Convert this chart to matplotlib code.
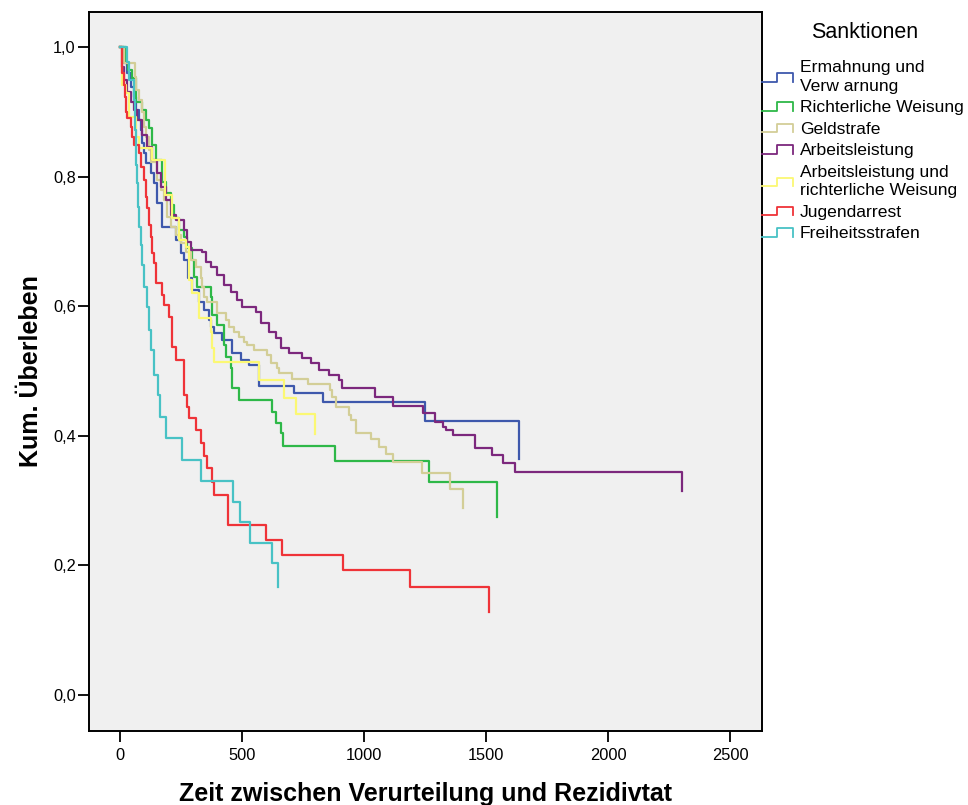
import matplotlib
matplotlib.use("Agg")
import matplotlib.pyplot as plt
from matplotlib.lines import Line2D
from matplotlib.legend_handler import HandlerBase
from matplotlib.ticker import FuncFormatter

# Kaplan-Meier Schaetzungen (Zeit in Tagen, kum. Ueberleben)
ermahnung_t = [16, 29, 45, 57, 66, 78, 86, 90, 99, 107, 127, 140, 152, 172, 230, 250, 263, 279,
               296, 324, 345, 365, 374, 386, 419, 460, 497, 530, 571, 714, 833, 1248, 1634]
ermahnung_s = [0.975, 0.960, 0.938, 0.923, 0.903, 0.887, 0.872, 0.852, 0.836, 0.821, 0.806, 0.790,
               0.759, 0.722, 0.702, 0.682, 0.671, 0.644, 0.625, 0.606, 0.594, 0.579, 0.568, 0.559,
               0.548, 0.528, 0.517, 0.509, 0.477, 0.466, 0.452, 0.423, 0.364]

weisung_t = [25, 33, 49, 66, 90, 107, 119, 131, 148, 172, 189, 209, 222, 242, 263, 275, 296, 304,
             316, 374, 378, 398, 427, 435, 456, 460, 489, 624, 640, 661, 669, 883, 1268, 1543]
weisung_s = [0.977, 0.965, 0.952, 0.915, 0.903, 0.887, 0.875, 0.849, 0.826, 0.792, 0.775, 0.756,
             0.736, 0.718, 0.707, 0.690, 0.671, 0.645, 0.630, 0.614, 0.586, 0.571, 0.540, 0.522,
             0.505, 0.474, 0.455, 0.437, 0.420, 0.404, 0.384, 0.361, 0.329, 0.275]

geld_t = [15, 62, 66, 78, 90, 99, 107, 119, 127, 152, 168, 181, 193, 209, 230, 250, 271, 291, 312,
          333, 337, 345, 357, 398, 435, 447, 468, 489, 509, 521, 550, 603, 620, 644, 653, 706, 772,
          862, 870, 887, 940, 948, 969, 1030, 1063, 1092, 1117, 1236, 1351, 1404]
geld_s = [0.975, 0.954, 0.934, 0.918, 0.900, 0.877, 0.861, 0.841, 0.823, 0.795, 0.779, 0.764,
          0.738, 0.722, 0.710, 0.698, 0.684, 0.671, 0.660, 0.644, 0.630, 0.614, 0.606, 0.590,
          0.579, 0.568, 0.560, 0.552, 0.545, 0.540, 0.532, 0.525, 0.512, 0.505, 0.497, 0.488,
          0.480, 0.471, 0.460, 0.444, 0.432, 0.424, 0.404, 0.395, 0.383, 0.372, 0.360, 0.343,
          0.318, 0.289]

arbeit_t = [8, 16, 29, 45, 57, 70, 90, 111, 131, 152, 168, 189, 209, 230, 263, 275, 291, 337, 353,
            374, 398, 427, 456, 480, 501, 558, 579, 612, 640, 661, 694, 747, 784, 817, 858, 899,
            911, 1043, 1117, 1240, 1289, 1322, 1338, 1363, 1453, 1523, 1568, 1617, 2303]
arbeit_s = [0.969, 0.949, 0.931, 0.915, 0.903, 0.887, 0.864, 0.846, 0.826, 0.806, 0.784, 0.764,
            0.741, 0.733, 0.718, 0.699, 0.687, 0.684, 0.668, 0.660, 0.648, 0.633, 0.622, 0.610,
            0.599, 0.591, 0.574, 0.560, 0.551, 0.535, 0.528, 0.520, 0.512, 0.502, 0.494, 0.486,
            0.474, 0.460, 0.446, 0.435, 0.421, 0.414, 0.409, 0.401, 0.381, 0.370, 0.358, 0.344,
            0.315]

arbeit_weis_t = [8, 25, 37, 66, 78, 131, 185, 214, 242, 271, 283, 296, 324, 374, 378, 386, 571,
                 673, 722, 800]
arbeit_weis_s = [0.941, 0.929, 0.892, 0.861, 0.844, 0.826, 0.772, 0.736, 0.702, 0.691, 0.640,
                 0.620, 0.582, 0.560, 0.535, 0.514, 0.486, 0.458, 0.434, 0.403]

arrest_t = [8, 16, 21, 25, 29, 45, 49, 57, 78, 86, 99, 107, 111, 119, 127, 131, 140, 148, 172, 181,
            201, 214, 230, 263, 275, 283, 312, 333, 345, 357, 378, 386, 443, 599, 665, 915, 1190,
            1511]
arrest_s = [0.960, 0.941, 0.923, 0.900, 0.890, 0.877, 0.861, 0.849, 0.836, 0.815, 0.795, 0.769,
            0.752, 0.725, 0.707, 0.682, 0.667, 0.636, 0.617, 0.602, 0.583, 0.537, 0.517, 0.463,
            0.444, 0.427, 0.409, 0.389, 0.369, 0.350, 0.329, 0.309, 0.262, 0.239, 0.216, 0.193,
            0.167, 0.128]

frei_t = [29, 37, 57, 62, 66, 70, 72, 78, 86, 90, 99, 111, 119, 127, 140, 156, 164, 189, 255, 333,
          464, 493, 534, 624, 649]
frei_s = [0.977, 0.949, 0.918, 0.872, 0.818, 0.790, 0.753, 0.722, 0.694, 0.664, 0.630, 0.599,
          0.563, 0.532, 0.494, 0.463, 0.429, 0.397, 0.363, 0.330, 0.298, 0.267, 0.235, 0.204,
          0.167]

labels = ["Ermahnung und\nVerw arnung", "Richterliche Weisung", "Geldstrafe", "Arbeitsleistung",
          "Arbeitsleistung und\nrichterliche Weisung", "Jugendarrest", "Freiheitsstrafen"]
colors = ["#3E58AC", "#2EB848", "#D3CE97", "#7C287D", "#FBF873", "#EF3338", "#48C2C5"]
series = [(ermahnung_t, ermahnung_s), (weisung_t, weisung_s), (geld_t, geld_s),
          (arbeit_t, arbeit_s), (arbeit_weis_t, arbeit_weis_s), (arrest_t, arrest_s),
          (frei_t, frei_s)]

plt.rcParams['font.family'] = ['Liberation Sans', 'DejaVu Sans']


class StepHandler(HandlerBase):
    """kleines Treppchen als Legendensymbol"""
    def create_artists(self, legend, orig_handle, xdescent, ydescent, width, height,
                       fontsize, trans):
        xs = [0, 0.5, 0.5, 1.0, 1.0]
        ys = [0.1, 0.1, 0.8, 0.8, 0.1]
        line = Line2D([-xdescent + x * width for x in xs],
                      [-ydescent + y * height for y in ys],
                      color=orig_handle.get_color(), lw=1.3)
        line.set_transform(trans)
        return [line]


fig = plt.figure(figsize=(9.68, 8.05), dpi=100)
ax = fig.add_axes([89 / 968, 74 / 805, 673 / 968, 719 / 805])
ax.set_facecolor("#F0F0F0")

handles = []
for (t, s), c, lab in zip(series, colors, labels):
    h, = ax.step([0] + t, [1.0] + s, where='post', color=c, lw=1.6, label=lab)
    handles.append(h)

ax.set_xlim(-127, 2631)
ax.set_ylim(-0.056, 1.054)
ax.set_xticks([0, 500, 1000, 1500, 2000, 2500])
ax.set_yticks([0.0, 0.2, 0.4, 0.6, 0.8, 1.0])
ax.yaxis.set_major_formatter(FuncFormatter(lambda v, p: ("%.1f" % v).replace(".", ",")))
ax.tick_params(direction='out', length=8, width=1.3, labelsize=11.8)
ax.tick_params(axis='x', pad=4)
ax.tick_params(axis='y', pad=1.5)
for sp in ax.spines.values():
    sp.set_linewidth(1.4)

ax.set_xlabel("Zeit zwischen Verurteilung und Rezidivtat", fontsize=18, fontweight='bold',
              va='center')
ax.set_ylabel("Kum. Überleben", fontsize=18, fontweight='bold', va='center')
ax.xaxis.set_label_coords(0.5, (731 - 794) / 719)
ax.yaxis.set_label_coords((31 - 89) / 673, 0.5)

fig.text(865 / 968, 1 - 33 / 805, "Sanktionen", ha='center', va='center', fontsize=15.5)
leg = fig.legend(handles=handles, loc='upper left', bbox_to_anchor=(762 / 968, 1 - 60 / 805),
                 frameon=False, fontsize=12.6, handler_map={Line2D: StepHandler()},
                 handlelength=1.76, handletextpad=0.4, labelspacing=0.36,
                 borderpad=0, borderaxespad=0)
for txt in leg.get_texts():
    txt.set_linespacing(1.3)

fig.savefig("out.png", dpi=100)
